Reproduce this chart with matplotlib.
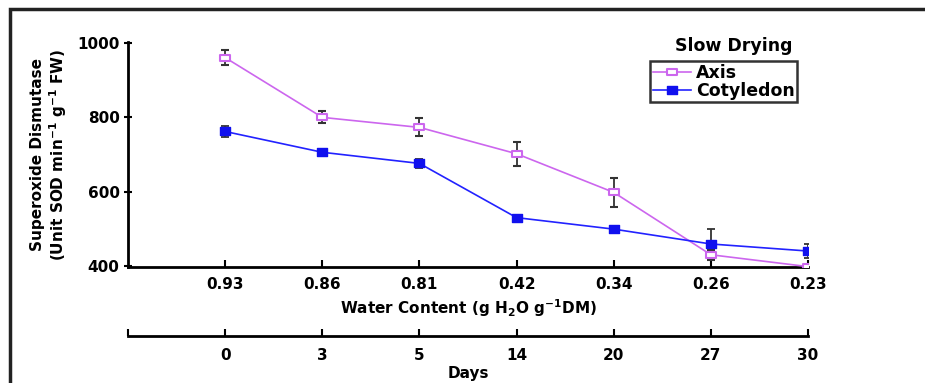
import numpy as np
import matplotlib
matplotlib.use("Agg")
import matplotlib.pyplot as plt
from matplotlib.patches import Rectangle
from matplotlib.path import Path
from matplotlib.lines import Line2D

plt.rcParams['font.family'] = ['DejaVu Sans']
plt.rcParams['font.weight'] = 'bold'
plt.rcParams['mathtext.default'] = 'bf'

# values
water = ['0.93', '0.86', '0.81', '0.42', '0.34', '0.26', '0.23']
days = ['0', '3', '5', '14', '20', '27', '30']
axis_sod = [961, 800, 773, 702, 598, 430, 398]
axis_err = [20, 16, 24, 32, 40, 14, 4]
cot_sod = [762, 706, 676, 530, 499, 459, 440]
cot_err = [16, 5, 13, 5, 5, 40, 20]

x = np.arange(len(water))

# squares in the source are a bit wider than tall
box = Path([(-1.4, -1), (1.4, -1), (1.4, 1), (-1.4, 1), (-1.4, -1)],
           [Path.MOVETO, Path.LINETO, Path.LINETO, Path.LINETO, Path.CLOSEPOLY])

axis_style = dict(color='#cc66ee', lw=1.2, marker=box, ms=7, mfc='white',
                  mec='#cc66ee', mew=1.5)
cot_style = dict(color='#2222ff', lw=1.2, marker=box, ms=7.5, mfc='#1010ee',
                 mec='#1010ee')

fig = plt.figure(figsize=(9.25, 3.83), dpi=100)
ax = fig.add_axes([128/925, 1-267/383, 680/925, 225/383])

ax.errorbar(x, axis_sod, yerr=axis_err, ecolor='#333333', elinewidth=1.3,
            capsize=3, capthick=1.3, zorder=3, **axis_style)
ax.errorbar(x, cot_sod, yerr=cot_err, ecolor='#333333', elinewidth=1.3,
            capsize=3, capthick=1.3, zorder=3, **cot_style)

ax.set_xlim(-1, 6)
ax.set_ylim(397, 1003)
ax.set_yticks([400, 600, 800, 1000])
ax.set_xticks(x)
ax.set_xticklabels(water)
for s in ['top', 'right']:
    ax.spines[s].set_visible(False)
for s in ['left', 'bottom']:
    ax.spines[s].set_linewidth(2)
ax.tick_params(axis='y', direction='inout', length=6, width=1.5, labelsize=11, pad=3)
ax.tick_params(axis='x', direction='in', length=5, width=1.5, labelsize=11, pad=7)
ax.set_xlabel('Water Content (g H$_2$O g$^{-1}$DM)', fontsize=11,
              fontweight='bold', labelpad=4)
ax.set_ylabel('Superoxide Dismutase\n(Unit SOD min$^{-1}$ g$^{-1}$ FW)',
              fontsize=11, fontweight='bold', labelpad=6, linespacing=1.15)

handles = [Line2D([], [], **axis_style), Line2D([], [], **cot_style)]
leg = ax.legend(handles, ['Axis', 'Cotyledon'], loc='upper left',
                bbox_to_anchor=(650/925, 1-61/383),
                bbox_transform=fig.transFigure, frameon=True, fancybox=False,
                fontsize=12.5, handlelength=2.2, borderpad=0.15, labelspacing=0.0,
                handletextpad=0.3, borderaxespad=0)
leg.get_frame().set_edgecolor('black')
leg.get_frame().set_linewidth(1.8)
for t in leg.get_texts():
    t.set_fontweight('bold')
fig.text(734/925, 1-46/383, 'Slow Drying', ha='center', va='center',
         fontsize=12.5, fontweight='bold')

# days axis below
ax2 = fig.add_axes([128/925, 1-336/383, 680/925, 0.001])
ax2.set_xlim(-1, 6)
ax2.set_yticks([])
for s in ['top', 'right', 'left']:
    ax2.spines[s].set_visible(False)
ax2.spines['bottom'].set_linewidth(2)
ax2.set_xticks(np.arange(-1, len(days)))
ax2.set_xticklabels([''] + days)
ax2.tick_params(axis='x', direction='in', length=5, width=1.5, labelsize=11, pad=9)
ax2.set_xlabel('Days', fontsize=11, fontweight='bold', labelpad=2)

# outer frame
fig.patches.append(Rectangle((10/925, -0.2), 1.2, 1.2 - 9/383,
                             transform=fig.transFigure, fill=False,
                             lw=2.5, edgecolor='#222222', clip_on=False))

fig.savefig('out.png', dpi=100)
